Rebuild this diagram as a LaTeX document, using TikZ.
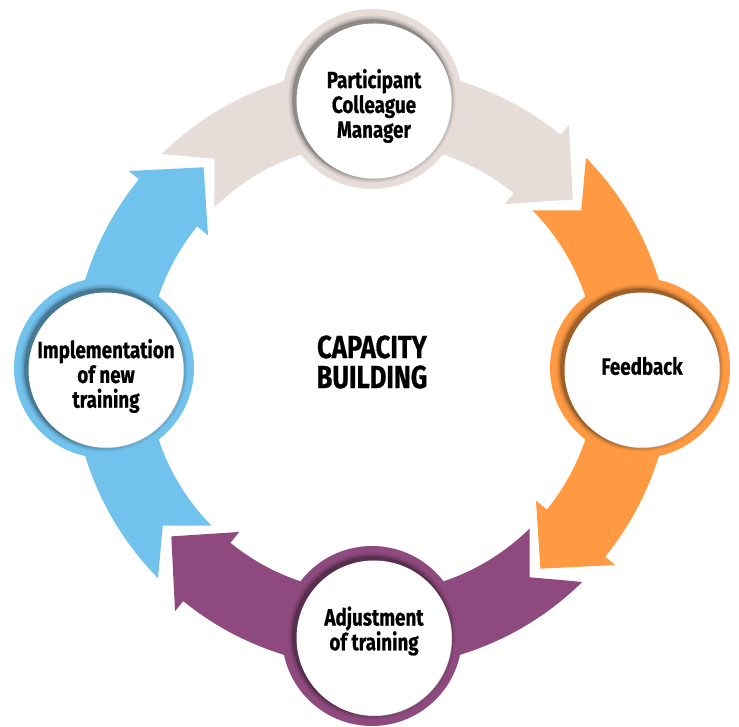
\documentclass[tikz,border=0pt]{standalone}
\usepackage{fontspec}
\newfontfamily\lblfont[FakeStretch=0.8, BoldFeatures={FakeBold=0.6}]{Fira Sans}
\definecolor{cgrey}{HTML}{E6DDD9}
\definecolor{corange}{HTML}{FF9A42}
\definecolor{cpurple}{HTML}{8E4A7E}
\definecolor{cblue}{HTML}{72C2EE}
\tikzset{
  bandarrow/.style={fill=#1},
  ringdisc/.style={circle, fill=white, minimum size=155pt, inner sep=0pt},
  ringlabel/.style={align=center, inner sep=0pt,
    font=\lblfont\bfseries\fontsize{23.5}{24.8}\selectfont, text=black},
  centertext/.style={align=center, font=\lblfont\bfseries\fontsize{32}{30}\selectfont, text=black}
}
\newcommand\cyclearrow[2]{%
  \begin{scope}[rotate=#1]
    \fill[bandarrow=#2] (134.5:300) arc[start angle=134.5, end angle=51, radius=300]
      -- (51:313) -- (40:262) -- (51:211) -- (51:225)
      arc[start angle=51, end angle=134.5, radius=225] -- (127:262) -- cycle;
  \end{scope}}
\newcommand\ringnode[5]{%
  \fill[#3] (#2) circle[radius=90];
  \fill[#3!92!black] (#2) circle[radius=83.5];
  \fill[#3!80!black] (#2) circle[radius=81.5];
  \fill[#3!62!black] (#2) circle[radius=79.8];
  \fill[black!22] ([shift={(2.6,-2.6)}]#2) circle[radius=77.5];
  \node[ringdisc] (#1) at ([shift={(2,-2)}]#2) {};
  \node[ringlabel] (#1-text) at ([yshift=#5]#1.center) {#4};}
\begin{document}
\begin{tikzpicture}[x=1pt,y=1pt]
\useasboundingbox (0,0) rectangle (739,727);
\coordinate (C) at (372,359);
\begin{scope}[shift={(C)}]
  \cyclearrow{0}{cgrey}
  \cyclearrow{-90}{corange}
  \cyclearrow{-180}{cpurple}
  \cyclearrow{-270}{cblue}
\end{scope}
\coordinate (Ptop) at (372,628);
\coordinate (Pright) at (640,359);
\coordinate (Pbottom) at (372,91);
\coordinate (Pleft) at (104,359);
\ringnode{top}{Ptop}{cgrey}{Participant\\Colleague\\Manager}{-5pt}
\ringnode{right}{Pright}{corange}{Feedback}{4pt}
\ringnode{bottom}{Pbottom}{cpurple}{Adjustment\\of training}{7pt}
\ringnode{left}{Pleft}{cblue}{Implementation\\of new\\training}{-6pt}
\node[centertext] (center) at (372,365) {CAPACITY\\BUILDING};
\end{tikzpicture}
\end{document}
